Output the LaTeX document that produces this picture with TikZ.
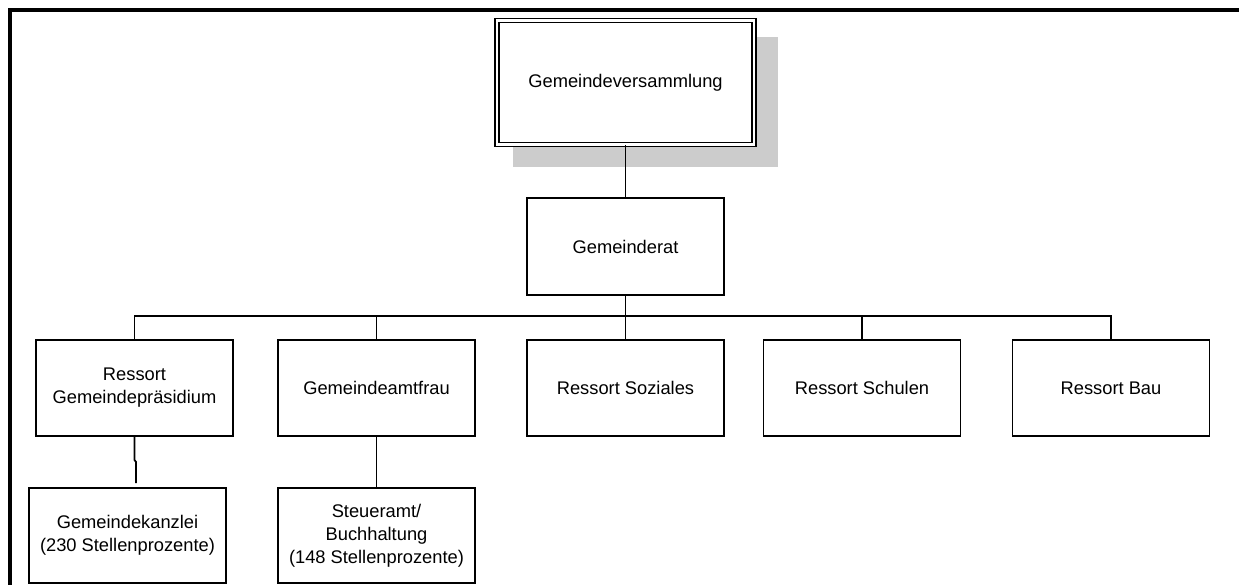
\documentclass[tikz,border=0pt]{standalone}
\usepackage{fontspec}
\setmainfont{Liberation Sans}
\begin{document}
\begin{tikzpicture}[x=1pt,y=-1pt,
  box/.style={draw, line width=1.8pt, fill=white, align=center, inner sep=0pt,
    minimum width=197pt, minimum height=96pt,
    font=\fontsize{18.3}{23}\selectfont},
  conn/.style={line width=1.8pt},
  frame/.style={line width=3.2pt}]
\useasboundingbox (0,0) rectangle (1239,585);
% frame
\draw[frame] (10,585) -- (10,10) -- (1239,10);
% shadow
\fill[gray!40] (513,37) rectangle (778,167);
% top box
\node[box, line width=1.6pt, double, double distance=2.2pt, minimum width=257pt, minimum height=124pt] (gv) at (625.5,82.5) {Gemeindeversammlung};
\node[box, minimum height=97pt] (gr) at (625.5,246.5) {Gemeinderat};
% row 1
\node[box] (r1) at (134.5,388) {Ressort\\Gemeindepräsidium};
\node[box] (r2) at (376.5,388) {Gemeindeamtfrau};
\node[box] (r3) at (625.5,388) {Ressort Soziales};
\node[box] (r4) at (862,388) {Ressort Schulen};
\node[box] (r5) at (1111,388) {Ressort Bau};
% row 2
\node[box, minimum height=95pt] (k1) at (127.5,535.5) {Gemeindekanzlei\\(230 Stellenprozente)};
\node[box, minimum height=95pt] (k2) at (376.5,535.5) {Steueramt/\\Buchhaltung\\(148 Stellenprozente)};
% connectors
\coordinate (bus) at (0,316);
\draw[conn] (gv.south) -- (gr.north);
\draw[conn] (gr.south) -- (gr.south |- bus);
\draw[conn] (r1.north) -- (r1.north |- bus) -- (r5.north |- bus) -- (r5.north);
\draw[conn] (r2.north) -- (r2.north |- bus);
\draw[conn] (r3.north) -- (r3.north |- bus);
\draw[conn] (r4.north) -- (r4.north |- bus);
\coordinate (j1) at (134.5,460);
\coordinate (j2) at (136,462);
\coordinate (j3) at (136,483);
\draw[conn] (r1.south) -- (j1) -- (j2) -- (j3);
\draw[conn] (r2.south) -- (k2.north);
\end{tikzpicture}
\end{document}
